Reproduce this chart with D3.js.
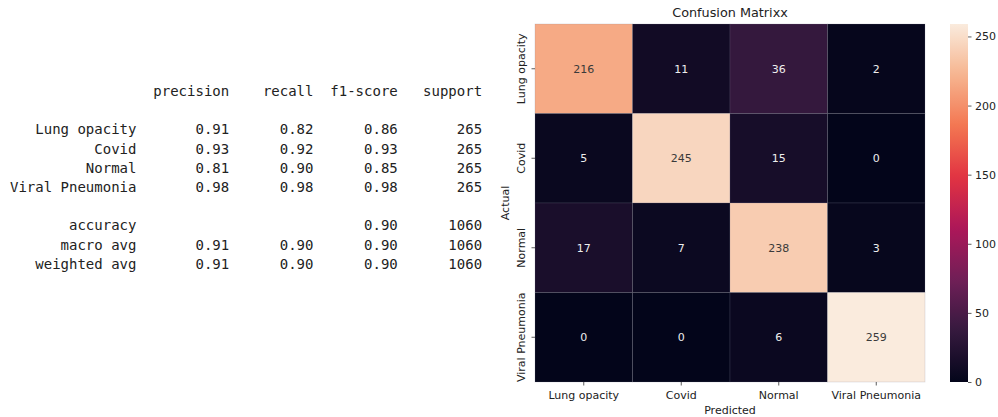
<!DOCTYPE html>
<html>
<head>
<meta charset="utf-8">
<script src="https://cdn.jsdelivr.net/npm/d3@7"></script>
<style>
  html, body { margin: 0; padding: 0; background: #fff; }
  svg { display: block; }
</style>
</head>
<body>
<svg id="chart" width="998" height="417"></svg>
<script>
// Classes and confusion counts (rows = actual, columns = predicted)
const classes = ["Lung opacity", "Covid", "Normal", "Viral Pneumonia"];
const matrix = [
  [216, 11, 36, 2],
  [5, 245, 15, 0],
  [17, 7, 238, 3],
  [0, 0, 6, 259]
];

// Classification report values
const precision = [0.91, 0.93, 0.81, 0.98];
const recall = [0.82, 0.92, 0.90, 0.98];
const f1score = [0.86, 0.93, 0.85, 0.98];
const support = [265, 265, 265, 265];
const accuracy = 0.90;
const totalSupport = 1060;
const macroAvg = [0.91, 0.90, 0.90];
const weightedAvg = [0.91, 0.90, 0.90];
const reportHeaders = ["precision", "recall", "f1-score", "support"];

// Colorbar ticks
const colorbarTicks = [0, 50, 100, 150, 200, 250];

// Seaborn "rocket" colormap anchor colours
const rocketStops = ["#03051a", "#35193e", "#701f57", "#ad1759", "#e13342", "#f37651", "#f6b48f", "#faebdd"];
const rocketPos = [0, 1/7, 2/7, 3/7, 4/7, 5/7, 6/7, 1];

const svg = d3.select("#chart");

// ---------- Text report ----------
const mono = "'DejaVu Sans Mono', monospace";
const cw = 8.43, x0 = 10, lh = 19.2, y0 = 96;
const colEnd = [15, 26, 36, 46, 56].map(c => x0 + c * cw);
const report = svg.append("g")
  .attr("font-family", mono).attr("font-size", 14).attr("fill", "#222")
  .attr("text-anchor", "end");

function reportRow(line, cells) {
  cells.forEach((t, i) => {
    if (t === "" || t == null) return;
    report.append("text").attr("x", colEnd[i]).attr("y", y0 + line * lh).text(t);
  });
}
reportRow(0, [""].concat(reportHeaders));
classes.forEach((c, i) => {
  reportRow(2 + i, [c, precision[i].toFixed(2), recall[i].toFixed(2), f1score[i].toFixed(2), String(support[i])]);
});
reportRow(7, ["accuracy", "", "", accuracy.toFixed(2), String(totalSupport)]);
reportRow(8, ["macro avg"].concat(macroAvg.map(v => v.toFixed(2)), [String(totalSupport)]));
reportRow(9, ["weighted avg"].concat(weightedAvg.map(v => v.toFixed(2)), [String(totalSupport)]));

// ---------- Heatmap ----------
const hmLeft = 535, hmRight = 925, hmTop = 24, hmBottom = 382;
const vmin = d3.min(matrix.flat()), vmax = d3.max(matrix.flat());
const x = d3.scaleBand().domain(classes).range([hmLeft, hmRight]).paddingInner(0).paddingOuter(0);
const y = d3.scaleBand().domain(classes).range([hmTop, hmBottom]).paddingInner(0).paddingOuter(0);
const rocket = d3.scaleLinear().domain(rocketPos).range(rocketStops).interpolate(d3.interpolateRgb);
const color = v => rocket((v - vmin) / (vmax - vmin));

const cells = [];
matrix.forEach((row, r) => row.forEach((v, c) => cells.push({ actual: classes[r], predicted: classes[c], value: v })));

function luminance(col) {
  const c = d3.rgb(col);
  const f = u => { u /= 255; return u <= 0.03928 ? u / 12.92 : Math.pow((u + 0.055) / 1.055, 2.4); };
  return 0.2126 * f(c.r) + 0.7152 * f(c.g) + 0.0722 * f(c.b);
}

const font = "'DejaVu Sans', sans-serif";
const fs = 11;
const hm = svg.append("g");
hm.selectAll("rect.cell").data(cells).join("rect")
  .attr("class", "cell")
  .attr("x", d => x(d.predicted)).attr("y", d => y(d.actual))
  .attr("width", x.bandwidth()).attr("height", y.bandwidth())
  .attr("fill", d => color(d.value))
  .attr("stroke", "rgba(130,130,145,0.28)").attr("stroke-width", 0.7);

hm.selectAll("text.annot").data(cells).join("text")
  .attr("class", "annot")
  .attr("x", d => x(d.predicted) + x.bandwidth() / 2)
  .attr("y", d => y(d.actual) + y.bandwidth() / 2)
  .attr("dy", "0.36em")
  .attr("text-anchor", "middle")
  .attr("font-family", font).attr("font-size", fs)
  .attr("fill", d => luminance(color(d.value)) > 0.408 ? "#3a3a3a" : "#eeeeee")
  .text(d => d.value);

// Axes
const xAxis = d3.axisBottom(x).tickSize(3.5).tickPadding(3.5);
const gx = svg.append("g").attr("transform", `translate(0,${hmBottom})`).call(xAxis);
gx.select(".domain").remove();
gx.selectAll("text").attr("font-family", font).attr("font-size", fs).attr("fill", "#222").attr("dy", "0.9em");
gx.selectAll("line").attr("stroke", "#333").attr("stroke-width", 0.8);

const yAxis = d3.axisLeft(y).tickSize(3.5).tickPadding(3.5);
const gy = svg.append("g").attr("transform", `translate(${hmLeft},0)`).call(yAxis);
gy.select(".domain").remove();
gy.selectAll("line").attr("stroke", "#333").attr("stroke-width", 0.8);
gy.selectAll("text")
  .attr("font-family", font).attr("font-size", fs).attr("fill", "#222")
  .attr("text-anchor", "middle").attr("x", null).attr("dy", null)
  .attr("transform", "translate(-10,0) rotate(-90)");

// Title and axis labels
svg.append("text").attr("x", (hmLeft + hmRight) / 2).attr("y", 17)
  .attr("text-anchor", "middle").attr("font-family", font).attr("font-size", 12.8).attr("fill", "#222")
  .text("Confusion Matrixx");
svg.append("text").attr("x", (hmLeft + hmRight) / 2).attr("y", 414)
  .attr("text-anchor", "middle").attr("font-family", font).attr("font-size", fs).attr("fill", "#222")
  .text("Predicted");
svg.append("text")
  .attr("transform", `translate(509,${(hmTop + hmBottom) / 2}) rotate(-90)`)
  .attr("text-anchor", "middle").attr("font-family", font).attr("font-size", fs).attr("fill", "#222")
  .text("Actual");

// ---------- Colorbar ----------
const cbX = 950, cbW = 18;
const cbScale = d3.scaleLinear().domain([vmin, vmax]).range([hmBottom, hmTop]);
const grad = svg.append("defs").append("linearGradient")
  .attr("id", "rocketGrad").attr("x1", 0).attr("y1", 1).attr("x2", 0).attr("y2", 0);
d3.range(0, 1.0001, 0.02).forEach(t => {
  grad.append("stop").attr("offset", t).attr("stop-color", rocket(t));
});
svg.append("rect").attr("x", cbX).attr("y", hmTop).attr("width", cbW).attr("height", hmBottom - hmTop)
  .attr("fill", "url(#rocketGrad)");
const cbAxis = d3.axisRight(cbScale).tickValues(colorbarTicks).tickSize(3.5).tickPadding(3.5);
const gc = svg.append("g").attr("transform", `translate(${cbX + cbW},0)`).call(cbAxis);
gc.select(".domain").remove();
gc.selectAll("line").attr("stroke", "#333").attr("stroke-width", 0.8);
gc.selectAll("text").attr("font-family", font).attr("font-size", fs).attr("fill", "#222");
</script>
</body>
</html>
